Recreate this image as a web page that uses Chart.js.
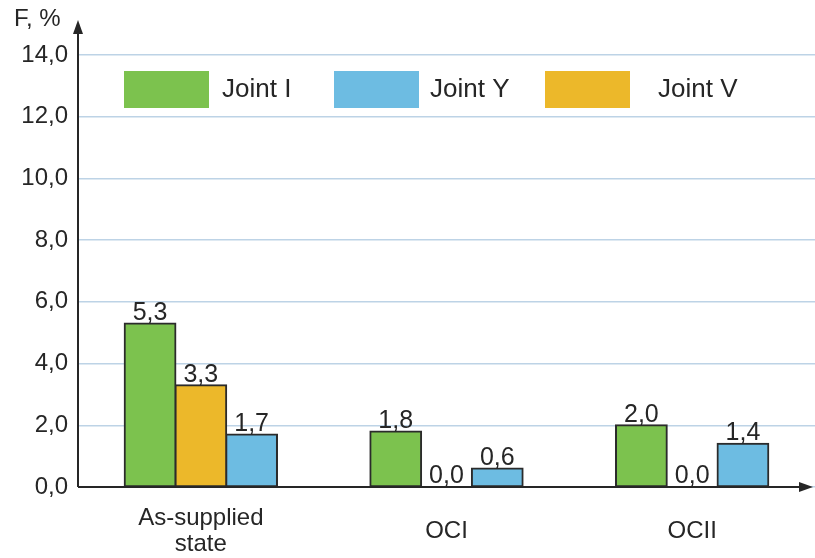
<!DOCTYPE html>
<html>
<head>
<meta charset="utf-8">
<script src="https://cdn.jsdelivr.net/npm/chart.js@4"></script>
<style>
  html, body { margin: 0; padding: 0; background: #fff; }
  #wrap { width: 815px; height: 558px; position: relative; }
</style>
</head>
<body>
<div id="wrap"><canvas id="chart"></canvas></div>
<script>
const categories = [['As-supplied', 'state'], ['OCI'], ['OCII']];
const jointI = [5.3, 1.8, 2.0];
const jointV = [3.3, 0.0, 0.0];
const jointY = [1.7, 0.6, 1.4];
const yMin = 0;
const yMax = 14;
const yStep = 2;
const legendOrder = ['Joint I', 'Joint Y', 'Joint V'];

const FONT = 'Liberation Sans, Arial, sans-serif';
const INK = '#262626';
const fmt = v => Number(v).toFixed(1).replace('.', ',');

// value labels over each bar
const valueLabels = {
    id: 'valueLabels',
    afterDatasetsDraw(chart) {
        const ctx = chart.ctx;
        ctx.save();
        ctx.font = '25px ' + FONT;
        ctx.fillStyle = INK;
        ctx.textAlign = 'center';
        ctx.textBaseline = 'bottom';
        chart.data.datasets.forEach((ds, i) => {
            chart.getDatasetMeta(i).data.forEach((bar, j) => {
                ctx.fillText(fmt(ds.data[j]), bar.x, bar.y + 2);
            });
        });
        ctx.restore();
    }
};

// axes with arrows, axis title, category labels, legend inside plot
const decor = {
    id: 'decor',
    afterDraw(chart) {
        const ctx = chart.ctx;
        const a = chart.chartArea;
        const x0 = a.left, y0 = chart.scales.y.getPixelForValue(0);
        ctx.save();
        ctx.strokeStyle = INK;
        ctx.fillStyle = INK;
        ctx.lineWidth = 2;
        ctx.beginPath();
        ctx.moveTo(x0, y0);
        ctx.lineTo(x0, 30);
        ctx.moveTo(x0, y0);
        ctx.lineTo(chart.width - 10, y0);
        ctx.stroke();
        ctx.beginPath();
        ctx.moveTo(x0, 20);
        ctx.lineTo(x0 - 5, 34);
        ctx.lineTo(x0 + 5, 34);
        ctx.closePath();
        ctx.fill();
        ctx.beginPath();
        ctx.moveTo(chart.width - 2, y0);
        ctx.lineTo(chart.width - 16, y0 - 5);
        ctx.lineTo(chart.width - 16, y0 + 5);
        ctx.closePath();
        ctx.fill();

        ctx.font = '24px ' + FONT;
        ctx.textAlign = 'left';
        ctx.textBaseline = 'middle';
        ctx.fillText('F, %', 14, 19);

        // category labels, centred vertically as a block
        ctx.textAlign = 'center';
        ctx.font = '24px ' + FONT;
        const xs = chart.scales.x;
        categories.forEach((lines, i) => {
            const cx = xs.getPixelForValue(i);
            const lh = 26;
            const top = 531 - (lines.length - 1) * lh / 2;
            lines.forEach((t, k) => ctx.fillText(t, cx, top + k * lh));
        });

        // legend
        const boxX = [124, 334, 545];
        const textX = [222, 430, 658];
        ctx.textAlign = 'left';
        ctx.font = '26px ' + FONT;
        legendOrder.forEach((name, k) => {
            const ds = chart.data.datasets.find(d => d.label === name);
            ctx.fillStyle = ds.backgroundColor;
            ctx.fillRect(boxX[k], 71, 85, 37);
            ctx.fillStyle = INK;
            ctx.fillText(name, textX[k], 90);
        });
        ctx.restore();
    }
};

const barStyle = { borderColor: '#2b2b2b', borderWidth: 2, borderSkipped: false, inflateAmount: 1 };

new Chart(document.getElementById('chart'), {
    type: 'bar',
    data: {
        labels: categories,
        datasets: [
            { label: 'Joint I', data: jointI, backgroundColor: '#7cc24e', ...barStyle },
            { label: 'Joint V', data: jointV, backgroundColor: '#ecb82a', ...barStyle },
            { label: 'Joint Y', data: jointY, backgroundColor: '#6dbce2', ...barStyle },
        ],
    },
    options: {
        responsive: true,
        maintainAspectRatio: false,
        animation: false,
        layout: { padding: { top: 55, left: 0, right: 0, bottom: 0 } },
        datasets: { bar: { categoryPercentage: 0.62, barPercentage: 1.0 } },
        plugins: {
            legend: { display: false },
            tooltip: { enabled: false },
        },
        scales: {
            x: {
                grid: { display: false, drawTicks: false },
                border: { display: false },
                ticks: { display: false },
                afterFit: s => { s.height = 71; },
            },
            y: {
                min: yMin,
                max: yMax,
                ticks: {
                    stepSize: yStep,
                    padding: 10,
                    color: INK,
                    font: { family: FONT, size: 24 },
                    callback: v => fmt(v),
                },
                grid: { color: '#bdd3e6', lineWidth: 1.5, drawTicks: false },
                border: { display: false },
                afterFit: s => { s.width = 78; },
            },
        },
    },
    plugins: [valueLabels, decor],
});
</script>
</body>
</html>
